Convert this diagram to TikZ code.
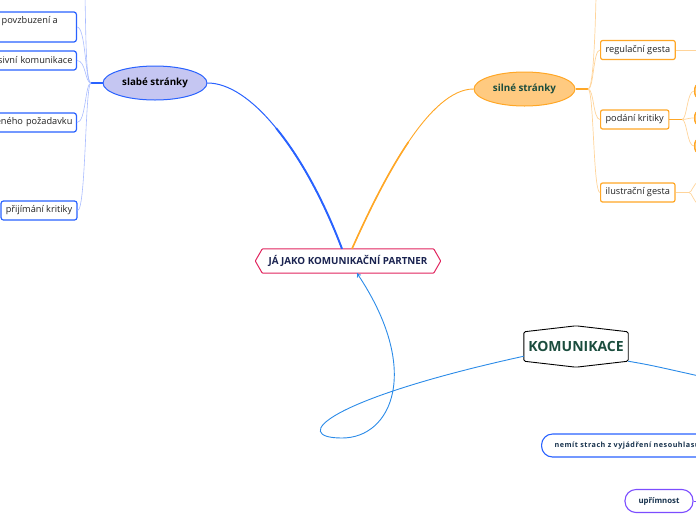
\documentclass[tikz,border=0pt]{standalone}
\usepackage{fontspec}
\setmainfont{Open Sans}
\usetikzlibrary{shapes.geometric,arrows.meta}
\definecolor{bluebr}{HTML}{2962FF}
\definecolor{lightbl}{HTML}{A9BCFF}
\definecolor{lavender}{HTML}{C5C6F2}
\definecolor{orangebr}{HTML}{FFA726}
\definecolor{orangefill}{HTML}{FFCA80}
\definecolor{lightor}{HTML}{FFD49A}
\definecolor{crimson}{HTML}{E0245E}
\definecolor{navytx}{HTML}{1A2350}
\definecolor{greentx}{HTML}{1B4D3E}
\definecolor{kblue}{HTML}{2B8BE8}
\definecolor{purplebr}{HTML}{7C4DFF}
\definecolor{darktx}{HTML}{17324D}
\definecolor{bodytx}{HTML}{222222}
\begin{document}
\begin{tikzpicture}[x=1pt,y=-1pt,
  lbox/.style={draw=bluebr,line width=1.2pt,rounded corners=2.5pt,fill=white,text=bodytx,
    font=\fontsize{9.2}{11}\selectfont,minimum height=19pt,inner ysep=0pt,inner xsep=4pt},
  rbox/.style={draw=orangebr,line width=1.2pt,rounded corners=2pt,fill=white,text=bodytx,
    font=\fontsize{9.2}{11}\selectfont,minimum height=19pt,inner ysep=0pt,inner xsep=5pt},
  osm/.style={draw=orangebr,line width=1.5pt,rounded corners=4pt,fill=white,minimum width=20pt,minimum height=13pt,inner sep=0pt},
  lbl/.style={lightbl,line width=0.6pt},
  obr/.style={lightor,line width=0.7pt},
  pill/.style={line width=1.1pt,rounded corners=11pt,fill=white,text=darktx,minimum height=23pt,inner ysep=0pt},
  kb/.style={kblue,line width=0.9pt}
]
\useasboundingbox (0,0) rectangle (696,520);
\clip (0,0) rectangle (696,520);

% central node
\node[font=\bfseries\fontsize{9.8}{11}\selectfont,text=navytx,minimum width=171pt,minimum height=24pt,inner sep=0pt] (center) at (348,261) {JÁ JAKO KOMUNIKAČNÍ PARTNER};
\draw[crimson,line width=1pt,rounded corners=0.8pt] ([xshift=-7pt]center.west) -- (center.north west) -- (center.north east) -- ([xshift=7pt]center.east) -- (center.south east) -- (center.south west) -- cycle;

% main topic ellipses
\node[ellipse,draw=bluebr,line width=1pt,fill=lavender,minimum width=104pt,minimum height=34pt,inner sep=0pt,
  font=\bfseries\fontsize{9.8}{11}\selectfont,text=black] (slabe) at (155,83) {slabé stránky};
\node[ellipse,draw=orangebr,line width=1pt,fill=orangefill,minimum width=101pt,minimum height=34pt,inner sep=0pt,
  font=\bfseries\fontsize{9.8}{11}\selectfont,text=greentx] (silne) at (524.5,89) {silné stránky};

% connectors to center
\draw[bluebr,line width=1pt] (slabe.east) .. controls (250,83) and (303,148) .. ([xshift=-6pt]center.north);
\draw[bluebr,line width=1.9pt] (276.1,128.1) .. controls (299.75,157) and (323,198.5) .. ([xshift=-6pt]center.north);
\draw[orangebr,line width=0.9pt] (silne.west) .. controls (430,89) and (384,177) .. ([xshift=4pt]center.north);
\draw[orangebr,line width=1.6pt] (408.5,142) .. controls (387.5,173) and (368,213) .. ([xshift=4pt]center.north);

% left branches
\coordinate (lj) at (91,83);
\coordinate (ltop) at (85,-3);
\node[lbox,anchor=east,minimum width=120pt,minimum height=30pt] (b1) at (77,27) {};
\node[anchor=west,inner sep=0pt,text=bodytx,font=\fontsize{9.2}{11}\selectfont] (b1t) at (1.5,21.5) {povzbuzení a};
\node[lbox,anchor=east,text width=100pt,align=right] (b2) at (77,60.5) {sivní komunikace};
\node[lbox,anchor=east,text width=100pt,align=right] (b3) at (77,122.5) {ěného požadavku};
\node[lbox,minimum width=76pt] (b4) at (39,210.5) {přijímání kritiky};
\draw[bluebr,line width=1.5pt] (slabe.west) -- (lj);
\draw[lbl] (lj) .. controls (86,83) and (86,40) .. (ltop);
\draw[lbl] (lj) .. controls (85,83) and (86,27) .. (b1.east);
\draw[lbl] (lj) .. controls (85,83) and (86,60.5) .. (b2.east);
\draw[lbl] (lj) .. controls (85,83) and (86,122.5) .. (b3.east);
\draw[lbl] (lj) .. controls (85,83) and (86,210.5) .. (b4.east);

% right branches
\coordinate (rj) at (588,89);
\coordinate (rtop) at (596,-3);
\node[rbox,anchor=west] (reg) at (600,50) {regulační gesta};
\node[rbox,anchor=west] (pod) at (600,119.5) {podání kritiky};
\node[rbox,anchor=west] (ilu) at (600,192.5) {ilustrační gesta};
\draw[orangebr,line width=1.5pt] (silne.east) -- (rj);
\draw[obr] (rj) .. controls (593,89) and (595,40) .. (rtop);
\draw[obr] (rj) .. controls (594,89) and (593,50) .. (reg.west);
\draw[obr] (rj) .. controls (594,89) and (593,119.5) .. (pod.west);
\draw[obr] (rj) .. controls (594,89) and (593,192.5) .. (ilu.west);

\coordinate (regr) at (699,50);
\draw[obr] (reg.east) -- (regr);

\coordinate (pj) at (682,119.5);
\node[osm,anchor=west] (o1) at (694,91) {};
\node[osm,anchor=west] (o2) at (694,118) {};
\node[osm,anchor=west] (o3) at (694,146) {};
\draw[orangebr,line width=1.5pt] (pod.east) -- (pj);
\draw[obr] (pj) .. controls (687,119.5) and (687,91) .. (o1.west);
\draw[obr] (pj) .. controls (687,119.5) and (687,118) .. (o2.west);
\draw[obr] (pj) .. controls (687,119.5) and (687,146) .. (o3.west);

\coordinate (ij) at (689,192.5);
\coordinate (iu) at (699,181);
\coordinate (id) at (699,205);
\draw[obr,line width=1.1pt] (ilu.east) -- (ij);
\draw[obr] (ij) .. controls (692,192.5) and (693,184) .. (iu);
\draw[obr] (ij) .. controls (692,192.5) and (693,201) .. (id);

% KOMUNIKACE
\node[font=\bfseries\fontsize{14}{16}\selectfont,text=greentx,minimum width=104pt,minimum height=29pt,inner sep=0pt] (kom) at (576,346.5) {KOMUNIKACE};
\draw[black,line width=0.9pt,rounded corners=1.5pt] (kom.north west) -- ([yshift=6pt]kom.north) -- (kom.north east) -- (kom.south east) -- ([yshift=-6pt]kom.south) -- (kom.south west) -- cycle;
\coordinate (kr) at (699,376);
\draw[kb] (kom.south east) .. controls (650,365) .. (kr);
\draw[kb,-{To[length=4pt,width=5pt]}] ([yshift=5pt]kom.south west) .. controls (324,400) and (290,438) .. (342,438) .. controls (392,438) and (422,370) .. ([xshift=9pt]center.south);

% bottom pills
\node[pill,draw=bluebr,anchor=west,inner xsep=13pt,font=\bfseries\fontsize{7.2}{8}\selectfont\addfontfeatures{LetterSpace=7}] (nem) at (541,445.5) {nemít strach z vyjádření nesouhlasu};
\node[pill,draw=purplebr,minimum width=68pt,font=\bfseries\fontsize{7.8}{8}\selectfont] (upr) at (659,501) {upřímnost};
\coordinate (uprr) at (699,501);
\draw[purplebr,line width=0.8pt] (upr.east) -- (uprr);
\end{tikzpicture}
\end{document}
